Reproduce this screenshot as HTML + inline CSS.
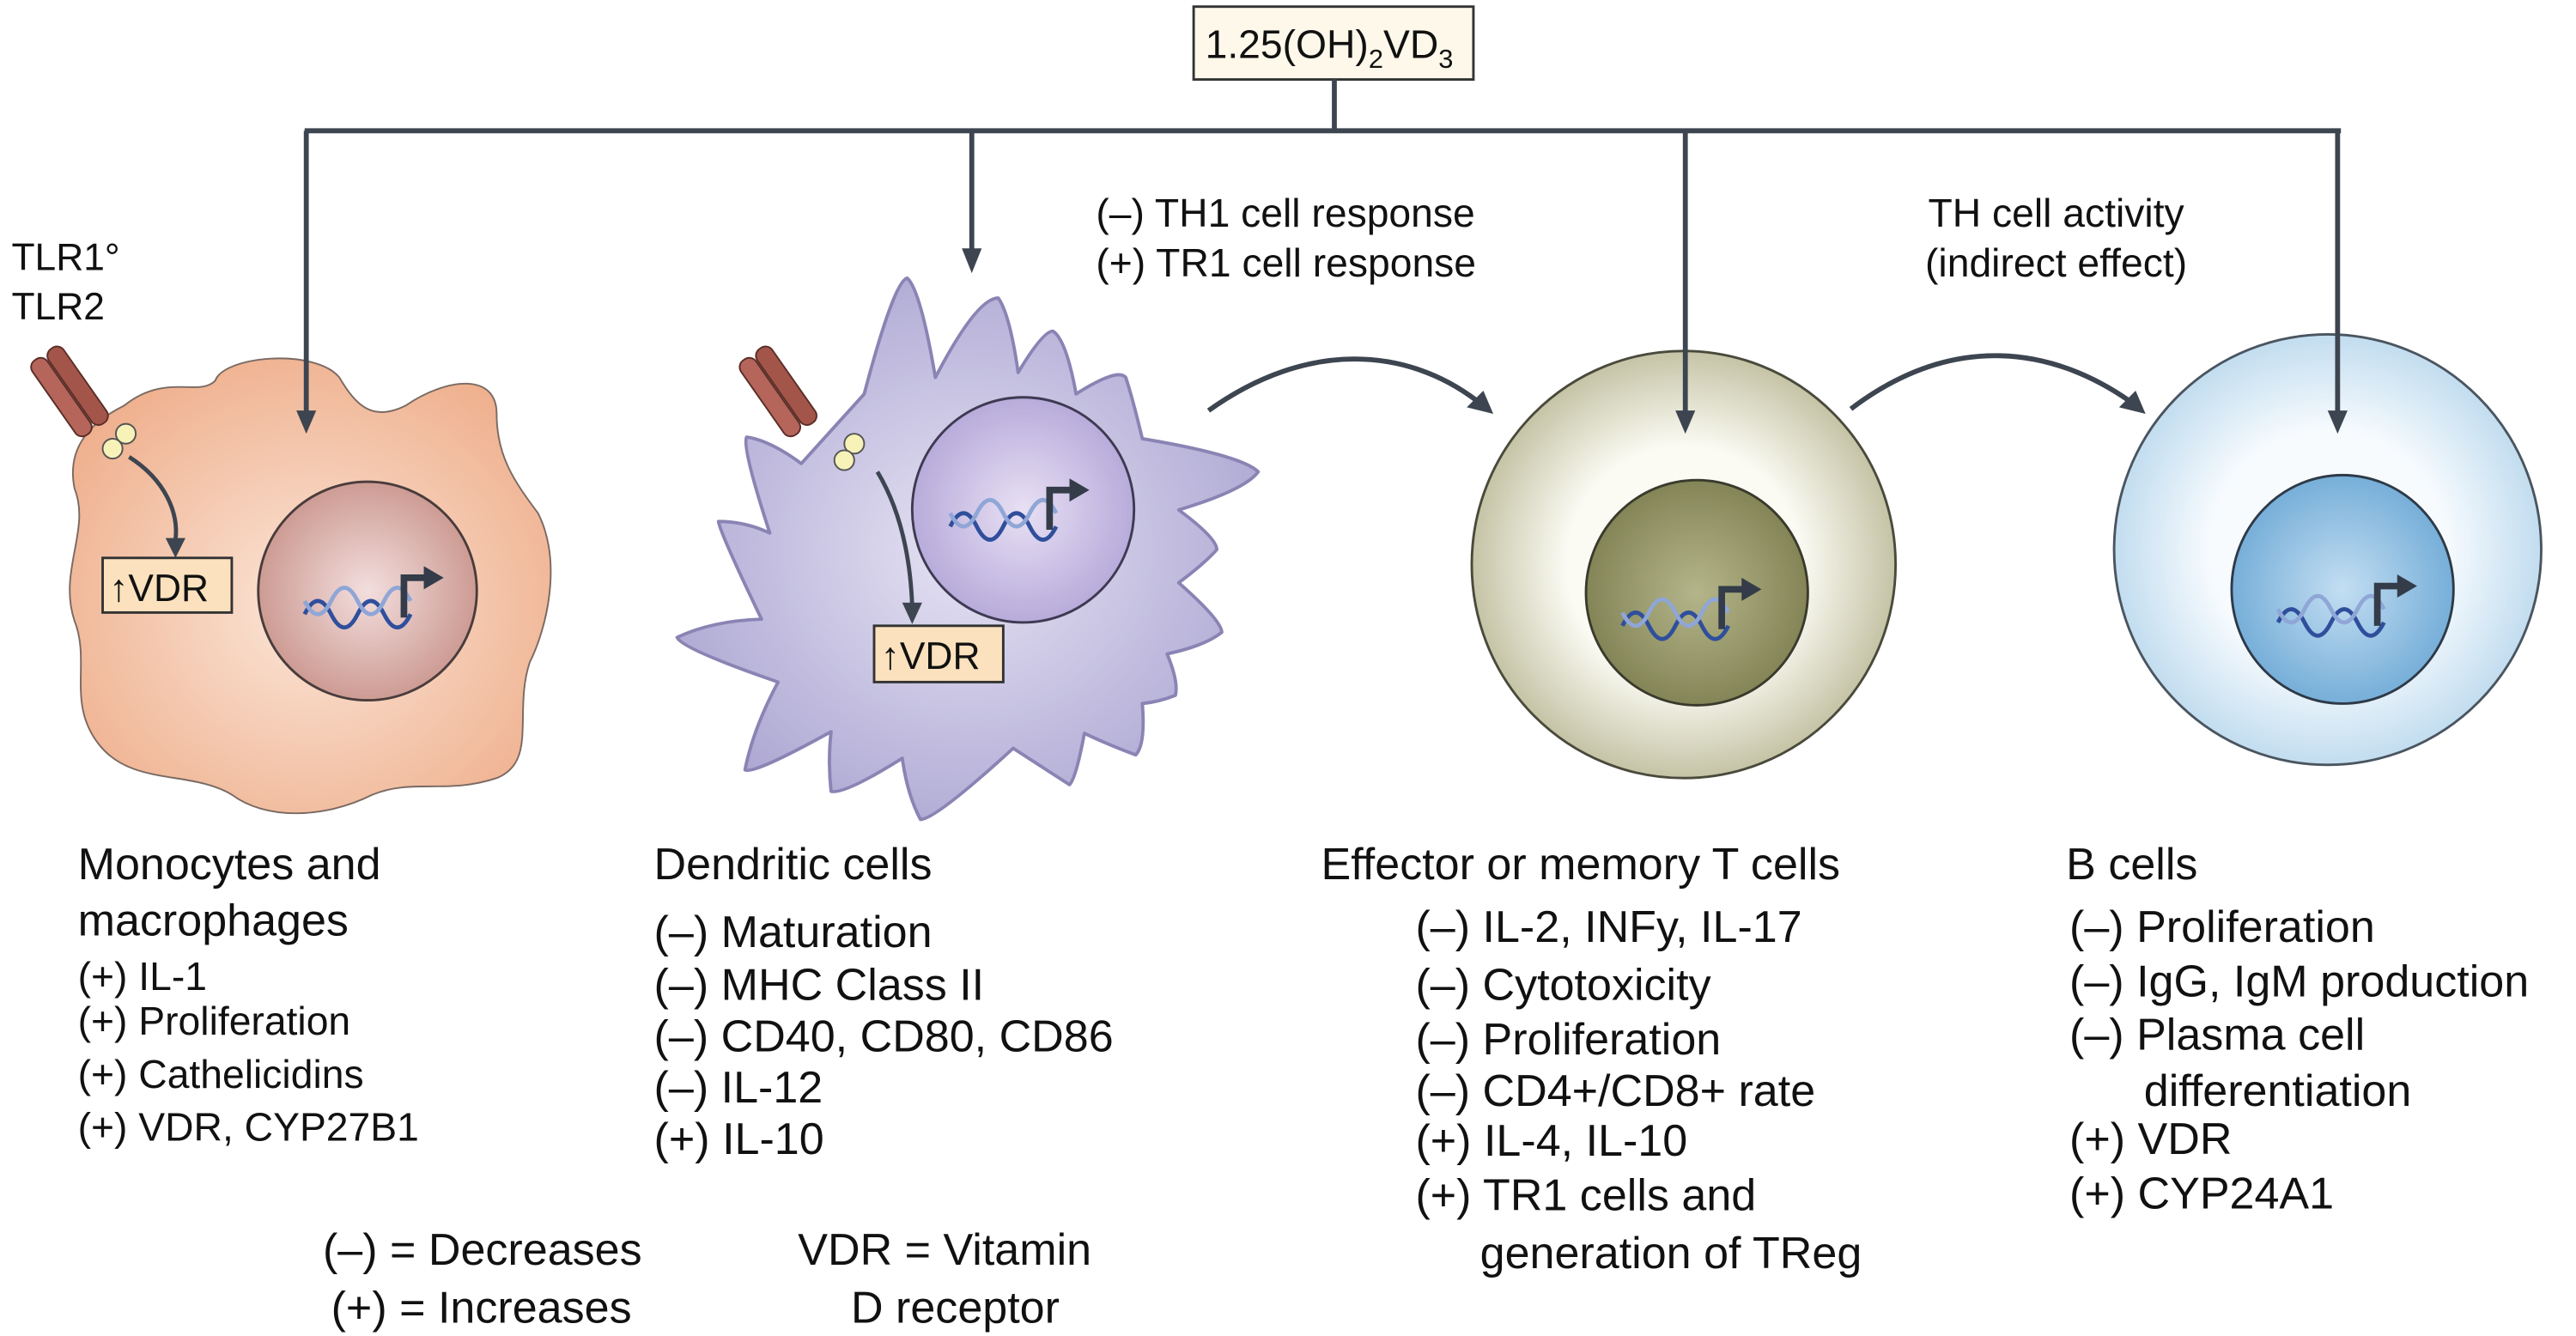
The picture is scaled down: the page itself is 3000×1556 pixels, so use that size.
<!DOCTYPE html>
<html><head><meta charset="utf-8"><style>
html,body{margin:0;padding:0;background:#fff}
svg{display:block}
text{font-family:"Liberation Sans",Arial,sans-serif;fill:#111}
</style></head><body>
<svg width="3000" height="1556" viewBox="0 0 1556 807" preserveAspectRatio="none" xmlns="http://www.w3.org/2000/svg">
<defs>
<radialGradient id="mono" cx="50%" cy="55%" r="60%"><stop offset="0" stop-color="#fbe6d8"/><stop offset="1" stop-color="#efb08e"/></radialGradient>
<radialGradient id="monoN" cx="50%" cy="50%" r="55%"><stop offset="0" stop-color="#f3dede"/><stop offset="1" stop-color="#c9958c"/></radialGradient>
<radialGradient id="dend" cx="50%" cy="50%" r="60%"><stop offset="0" stop-color="#e6e3f4"/><stop offset="1" stop-color="#a9a3d0"/></radialGradient>
<radialGradient id="dendN" cx="50%" cy="50%" r="55%"><stop offset="0" stop-color="#e8e0f4"/><stop offset="1" stop-color="#b3a6d8"/></radialGradient>
<radialGradient id="tc" cx="50%" cy="50%" r="55%"><stop offset="0.5" stop-color="#fbfbf4"/><stop offset="1" stop-color="#b9b794"/></radialGradient>
<radialGradient id="tcN" cx="50%" cy="50%" r="55%"><stop offset="0" stop-color="#b4b58a"/><stop offset="1" stop-color="#7f8052"/></radialGradient>
<radialGradient id="bc" cx="50%" cy="50%" r="55%"><stop offset="0.5" stop-color="#f7fbfe"/><stop offset="1" stop-color="#b6d6ec"/></radialGradient>
<radialGradient id="bcN" cx="50%" cy="50%" r="55%"><stop offset="0" stop-color="#c3def2"/><stop offset="1" stop-color="#6faad6"/></radialGradient>
<g id="dna">
<path d="M-38,6 q8,-16 16,0 t16,0 t16,0 t16,0" fill="none" stroke="#2f4f9c" stroke-width="2.5"/>
<path d="M-38,-2 q8,16 16,0 t16,0 t16,0 t16,0" fill="none" stroke="#8fa6d6" stroke-width="2.5"/>
<path d="M22,8 L22,-16 L36,-16" fill="none" stroke="#333c48" stroke-width="4"/>
<path d="M34,-23 L46,-16 L34,-9 Z" fill="#333c48"/>
</g>
</defs>

<!-- top box -->
<rect x="721" y="4" width="169" height="44" fill="#fdf8ea" stroke="#333" stroke-width="1.5"/>
<text x="728" y="35" font-size="24">1.25(OH)<tspan font-size="16" dy="6">2</tspan><tspan dy="-6">VD</tspan><tspan font-size="16" dy="6">3</tspan></text>

<!-- Monocyte -->
<path d="M75,245 C100,225 120,240 130,230 C135,215 190,210 205,228 C215,245 225,255 245,245 C270,228 300,225 300,250 C300,275 310,290 325,310 C340,340 330,380 320,400 C310,430 325,460 300,470 C270,480 250,470 225,480 C195,495 160,495 140,480 C115,465 80,475 60,450 C40,425 55,400 45,375 C35,345 55,320 45,295 C40,270 55,255 75,245 Z" fill="url(#mono)" stroke="#7a6a62" stroke-width="1"/>
<ellipse cx="222" cy="357" rx="66" ry="66" fill="url(#monoN)" stroke="#4a3c3c" stroke-width="1.5"/>
<use href="#dna" x="222" y="365"/>
<g transform="rotate(-35 50 240)">
<rect x="34" y="205" width="11" height="55" rx="5" fill="#b5655a" stroke="#5a2e28"/>
<rect x="46" y="205" width="11" height="55" rx="5" fill="#a45549" stroke="#5a2e28"/>
</g>
<circle cx="76" cy="262" r="6" fill="#f7f2b8" stroke="#555"/>
<circle cx="68" cy="271" r="6" fill="#f7f2b8" stroke="#555"/>
<path d="M78,276 C100,290 108,310 106,326" fill="none" stroke="#3d4550" stroke-width="2.5"/>
<path d="M100,325 L106,337 L112,325 Z" fill="#3d4550"/>
<rect x="62" y="337" width="78" height="33" fill="#fbe1bd" stroke="#333" stroke-width="1.5"/>
<text x="66" y="363" font-size="23">↑VDR</text>
<text x="7" y="163" font-size="23">TLR1°</text>
<text x="7" y="193" font-size="23">TLR2</text>

<!-- Dendritic -->
<path d="M522,238 Q540,170 548,168 Q556,175 565,228 Q590,180 603,180 Q610,190 615,225 Q630,200 636,200 Q644,205 650,238 Q675,222 680,228 Q684,240 690,265 Q750,275 760,285 Q752,296 712,308 Q735,325 735,332 Q728,340 712,352 Q738,375 738,382 Q728,390 705,395 Q712,412 710,420 Q700,424 690,425 Q692,450 686,456 Q670,450 655,443 Q650,470 646,474 Q632,465 612,452 Q565,495 556,495 Q548,480 545,458 Q510,480 502,478 Q500,460 502,442 Q455,468 450,465 Q455,440 470,412 Q412,392 409,385 Q430,375 460,374 Q435,322 434,315 Q450,315 465,322 Q448,270 451,264 Q465,266 484,280 Z" fill="url(#dend)" stroke="#8a84b4" stroke-width="2" stroke-linejoin="round"/>
<ellipse cx="618" cy="308" rx="67" ry="68" fill="url(#dendN)" stroke="#3e3a52" stroke-width="1.5"/>
<use href="#dna" x="612" y="312"/>
<g transform="rotate(-35 478 240)">
<rect x="462" y="205" width="11" height="55" rx="5" fill="#b5655a" stroke="#5a2e28"/>
<rect x="474" y="205" width="11" height="55" rx="5" fill="#a45549" stroke="#5a2e28"/>
</g>
<circle cx="516" cy="268" r="6" fill="#f7f2b8" stroke="#555"/>
<circle cx="510" cy="278" r="6" fill="#f7f2b8" stroke="#555"/>
<path d="M530,285 C545,310 550,340 551,366" fill="none" stroke="#3d4550" stroke-width="2.5"/>
<path d="M545,364 L551,377 L557,364 Z" fill="#3d4550"/>
<rect x="528" y="378" width="78" height="34" fill="#fbe1bd" stroke="#333" stroke-width="1.5"/>
<text x="532" y="404" font-size="23">↑VDR</text>

<!-- T cell -->
<ellipse cx="1017" cy="341" rx="128" ry="129" fill="url(#tc)" stroke="#4a4a3c" stroke-width="1.5"/>
<ellipse cx="1025" cy="358" rx="67" ry="68" fill="url(#tcN)" stroke="#3a3a2c" stroke-width="1.5"/>
<use href="#dna" x="1018" y="372"/>

<!-- B cell -->
<ellipse cx="1406" cy="332" rx="129" ry="130" fill="url(#bc)" stroke="#4a5560" stroke-width="1.5"/>
<ellipse cx="1415" cy="356" rx="67" ry="69" fill="url(#bcN)" stroke="#2e3a48" stroke-width="1.5"/>
<use href="#dna" x="1414" y="370"/>

<!-- connectors (on top) -->
<g stroke="#3d4550" stroke-width="3" fill="none">
<line x1="806" y1="48" x2="806" y2="79"/>
<line x1="184" y1="79" x2="1414" y2="79"/>
<line x1="185" y1="79" x2="185" y2="250"/>
<line x1="587" y1="79" x2="587" y2="152"/>
<line x1="1018" y1="79" x2="1018" y2="250"/>
<line x1="1412" y1="79" x2="1412" y2="250"/>
<path d="M730,248 C790,205 850,210 892,242"/>
<path d="M1118,247 C1180,200 1240,210 1286,242"/>
</g>
<g fill="#3d4550">
<path d="M179,248 L185,262 L191,248 Z"/>
<path d="M581,150 L587,165 L593,150 Z"/>
<path d="M1012,248 L1018,262 L1024,248 Z"/>
<path d="M1406,248 L1412,262 L1418,248 Z"/>
<path d="M886,246 L902,250 L896,236 Z"/>
<path d="M1280,246 L1296,250 L1290,236 Z"/>
</g>

<!-- labels -->
<g font-size="24">
<text x="662" y="137">(–) TH1 cell response</text>
<text x="662" y="167">(+) TR1 cell response</text>
<text x="1242" y="137" text-anchor="middle">TH cell activity</text>
<text x="1242" y="167" text-anchor="middle">(indirect effect)</text>
</g>

<g font-size="27">
<text x="47" y="531">Monocytes and</text>
<text x="47" y="565">macrophages</text>
<text x="395" y="531">Dendritic cells</text>
<text x="395" y="572">(–) Maturation</text>
<text x="395" y="604">(–) MHC Class II</text>
<text x="395" y="635">(–) CD40, CD80, CD86</text>
<text x="395" y="666">(–) IL-12</text>
<text x="395" y="697">(+) IL-10</text>
<text x="798" y="531">Effector or memory T cells</text>
<text x="855" y="569">(–) IL-2, INFy, IL-17</text>
<text x="855" y="604">(–) Cytotoxicity</text>
<text x="855" y="637">(–) Proliferation</text>
<text x="855" y="668">(–) CD4+/CD8+ rate</text>
<text x="855" y="698">(+) IL-4, IL-10</text>
<text x="855" y="731">(+) TR1 cells and</text>
<text x="894" y="766">generation of TReg</text>
<text x="1248" y="531">B cells</text>
<text x="1250" y="569">(–) Proliferation</text>
<text x="1250" y="602">(–) IgG, IgM production</text>
<text x="1250" y="634">(–) Plasma cell</text>
<text x="1295" y="668">differentiation</text>
<text x="1250" y="697">(+) VDR</text>
<text x="1250" y="730">(+) CYP24A1</text>
<text x="195" y="764">(–) = Decreases</text>
<text x="200" y="799">(+) = Increases</text>
<text x="482" y="764">VDR = Vitamin</text>
<text x="577" y="799" text-anchor="middle">D receptor</text>
</g>
<g font-size="24">
<text x="47" y="598">(+) IL-1</text>
<text x="47" y="625">(+) Proliferation</text>
<text x="47" y="657">(+) Cathelicidins</text>
<text x="47" y="689">(+) VDR, CYP27B1</text>
</g>
</svg>
</body></html>
